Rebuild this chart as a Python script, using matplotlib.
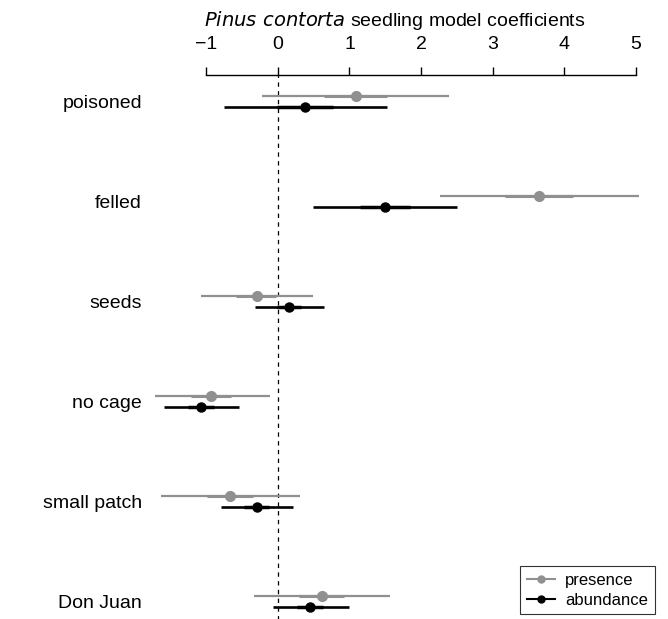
import matplotlib
matplotlib.use("Agg")
import matplotlib.pyplot as plt
from matplotlib.lines import Line2D

# coefficients (estimate, outer interval, inner interval)
predictors = ["poisoned", "felled", "seeds", "no cage", "small patch", "Don Juan"]

pres_est = [1.09, 3.65, -0.30, -0.93, -0.67, 0.61]
pres_lo = [-0.22, 2.27, -1.08, -1.72, -1.63, -0.34]
pres_hi = [2.39, 5.05, 0.49, -0.11, 0.31, 1.57]
pres_in_lo = [0.64, 3.17, -0.58, -1.21, -0.99, 0.29]
pres_in_hi = [1.53, 4.13, -0.03, -0.65, -0.35, 0.93]

abun_est = [0.38, 1.50, 0.16, -1.08, -0.30, 0.45]
abun_lo = [-0.76, 0.49, -0.32, -1.59, -0.80, -0.07]
abun_hi = [1.52, 2.50, 0.64, -0.55, 0.21, 0.99]
abun_in_lo = [-0.01, 1.15, -0.01, -1.26, -0.47, 0.27]
abun_in_hi = [0.77, 1.85, 0.32, -0.90, -0.12, 0.63]

x_ticks = [-1, 0, 1, 2, 3, 4, 5]

plt.rcParams["font.family"] = ["Liberation Sans", "DejaVu Sans"]
plt.rcParams["mathtext.fontset"] = "custom"
plt.rcParams["mathtext.it"] = "DejaVu Sans:italic"
plt.rcParams["mathtext.rm"] = "Liberation Sans"

W, H = 668, 619
fig = plt.figure(figsize=(W / 100, H / 100), dpi=100)

# axes placed in pixel terms; bottom runs slightly off the figure like the original
left_px, right_px, top_px, bot_px = 189.3, 652.7, 75, 625
ax = fig.add_axes([left_px / W, (H - bot_px) / H,
                   (right_px - left_px) / W, (bot_px - top_px) / H])

grey = "#909090"
ys = list(range(len(predictors)))
off = 0.055
y_p = [y - off for y in ys]
y_a = [y + off for y in ys]

ax.axvline(0, color="black", lw=0.9, ls=(0, (3.5, 3.5)), zorder=1)

ax.hlines(y_p, pres_lo, pres_hi, color=grey, lw=1.6, zorder=2, clip_on=False)
ax.hlines(y_p, pres_in_lo, pres_in_hi, color=grey, lw=2.2, zorder=2, clip_on=False)
ax.plot(pres_est, y_p, "o", color=grey, ms=7, zorder=3, clip_on=False)

ax.hlines(y_a, abun_lo, abun_hi, color="black", lw=1.9, zorder=2, clip_on=False)
ax.hlines(y_a, abun_in_lo, abun_in_hi, color="black", lw=2.5, zorder=2, clip_on=False)
ax.plot(abun_est, y_a, "o", color="black", ms=6.5, zorder=3, clip_on=False)

ax.set_xlim(-1.24, 5.24)
ax.set_ylim((bot_px - 102) / 100, (top_px - 102) / 100)

for s in ["left", "right", "bottom"]:
    ax.spines[s].set_visible(False)
ax.spines["top"].set_bounds(-1, 5)
ax.spines["top"].set_linewidth(1.0)

ax.xaxis.tick_top()
ax.set_xticks(x_ticks)
ax.set_xticklabels([str(t).replace("-", "\u2212") for t in x_ticks])
ax.tick_params(axis="x", direction="out", length=6, width=1.0, pad=10, labelsize=14)

ax.set_yticks(ys)
ax.set_yticklabels(predictors)
ax.tick_params(axis="y", length=0, pad=34, labelsize=14)

fig.text(395 / W, 1 - 20 / H, r"$\mathit{Pinus\ contorta}$ seedling model coefficients",
         ha="center", va="center", fontsize=14)

handles = [Line2D([], [], color=grey, lw=1.5, marker="o", ms=5),
           Line2D([], [], color="black", lw=1.5, marker="o", ms=5)]
leg = fig.legend(handles, ["presence", "abundance"], loc="upper left",
                 bbox_to_anchor=(520 / W, 1 - 566 / H), fontsize=12,
                 fancybox=False, frameon=True, borderpad=0.4,
                 handlelength=1.7, handletextpad=0.6, labelspacing=0.3,
                 borderaxespad=0)
leg.get_frame().set_edgecolor("black")
leg.get_frame().set_linewidth(0.8)

fig.savefig("out.png", dpi=100)
